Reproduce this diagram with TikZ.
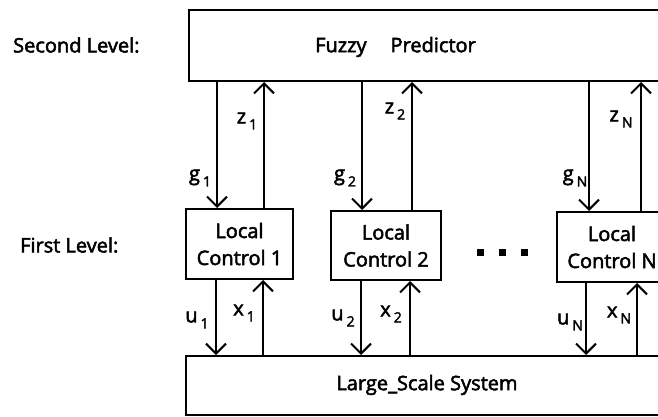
\documentclass[tikz,border=0pt]{standalone}
\usepackage{fontspec}
\setmainfont{Open Sans}[FakeBold=2.5]
\usetikzlibrary{arrows.meta}
\newcommand{\sg}[2]{#1\hspace{3pt}\raisebox{-6pt}{\fontsize{14}{14}\selectfont #2}}
\begin{document}
\begin{tikzpicture}[x=1pt,y=-1pt,
 box/.style={draw, line width=2pt, inner sep=0pt},
 arr/.style={line width=2pt, -{Straight Barb[length=10pt,width=20pt,line width=2pt]}},
 lbl/.style={font=\fontsize{20}{27}\selectfont, inner sep=0pt},
 sig/.style={font=\fontsize{20}{24}\selectfont, inner sep=0pt},
 sq/.style={fill, minimum size=7pt, inner sep=0pt}]
\useasboundingbox (0,0) rectangle (658,417);
\clip (0,0) rectangle (658,417);
% boxes
\node[box, anchor=north west, minimum width=490pt, minimum height=71pt] (fp) at (188,9) {};
\node[lbl, anchor=west] (fpt) at (315,47) {Fuzzy\hspace{24pt}Predictor};
\node[box, lbl, align=center, minimum width=107pt, minimum height=70pt] (lc1) at (239.5,244) {Local\\Control 1};
\node[box, lbl, align=center, minimum width=110pt, minimum height=69pt] (lc2) at (386,245.5) {Local\\Control 2};
\node[box, lbl, align=center, minimum width=110pt, minimum height=70pt] (lcN) at (612,247) {Local\\Control N};
\node[box, anchor=north west, minimum width=490pt, minimum height=59pt] (ls) at (185,355) {};
\node[lbl] (lst) at (427,385) {Large\_Scale System};
% level labels
\node[lbl, anchor=west] (sl) at (13,45) {Second Level:};
\node[lbl, anchor=west] (fl) at (20,245) {First Level:};
% dots
\node[sq] (d1) at (480,252) {};
\node[sq] (d2) at (502,252) {};
\node[sq] (d3) at (524,252) {};
% columns
\coordinate (g1) at (217,0); \coordinate (z1) at (264,0);
\coordinate (u1) at (216,0); \coordinate (x1) at (263,0);
\coordinate (g2) at (362,0); \coordinate (z2) at (412,0);
\coordinate (u2) at (361,0); \coordinate (x2) at (410,0);
\coordinate (gN) at (589,0); \coordinate (zN) at (641,0);
\coordinate (uN) at (586,0); \coordinate (xN) at (637,0);
\draw[arr] (g1 |- fp.south) -- (g1 |- lc1.north);
\draw[arr] (z1 |- lc1.north) -- (z1 |- fp.south);
\draw[arr] (u1 |- lc1.south) -- (u1 |- ls.north);
\draw[arr] (x1 |- ls.north) -- (x1 |- lc1.south);
\draw[arr] (g2 |- fp.south) -- (g2 |- lc2.north);
\draw[arr] (z2 |- lc2.north) -- (z2 |- fp.south);
\draw[arr] (u2 |- lc2.south) -- (u2 |- ls.north);
\draw[arr] (x2 |- ls.north) -- (x2 |- lc2.south);
\draw[arr] (gN |- fp.south) -- (gN |- lcN.north);
\draw[arr] (zN |- lcN.north) -- (zN |- fp.south);
\draw[arr] (uN |- lcN.south) -- (uN |- ls.north);
\draw[arr] (xN |- ls.north) -- (xN |- lcN.south);
% signal labels
\node[sig] (lg1) at (200,178) {\sg{g}{1}};
\node[sig] (lz1) at (247,121) {\sg{z}{1}};
\node[sig] (lu1) at (197,320) {\sg{u}{1}};
\node[sig] (lx1) at (244,313) {\sg{x}{1}};
\node[sig] (lg2) at (345,178) {\sg{g}{2}};
\node[sig] (lz2) at (395,111) {\sg{z}{2}};
\node[sig] (lu2) at (343,318) {\sg{u}{2}};
\node[sig] (lx2) at (391,314) {\sg{x}{2}};
\node[sig] (lgN) at (575,178) {\sg{g}{N}};
\node[sig] (lzN) at (621,119) {\sg{z}{N}};
\node[sig] (luN) at (570,322) {\sg{u}{N}};
\node[sig] (lxN) at (619,315) {\sg{x}{N}};
\end{tikzpicture}
\end{document}
